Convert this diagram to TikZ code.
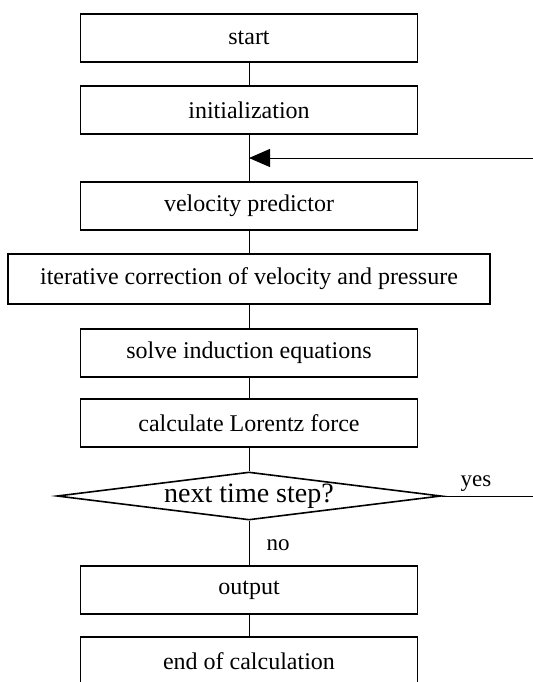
\documentclass[tikz,border=0pt]{standalone}
\usepackage{fontspec}
\setmainfont{Liberation Serif}
\usepackage{tikz}
\usetikzlibrary{arrows.meta,shapes.geometric}

\begin{document}
\begin{tikzpicture}[x=0.5pt,y=-0.5pt,
	box/.style={draw,line width=0.8pt,minimum width=168.5pt,minimum height=24pt,inner sep=0pt,font=\fontsize{12}{14}\selectfont},
	widebox/.style={box,minimum width=241pt,minimum height=25pt},
	ask/.style={draw,line width=0.8pt,diamond,shape aspect=8,minimum width=192pt,minimum height=24pt,inner sep=0pt,font=\fontsize{14}{16}\selectfont},
	link/.style={line width=0.5pt},
	lbl/.style={font=\fontsize{11.5}{13}\selectfont}]
					\useasboundingbox (0,0) rectangle (533,682);
					\clip (0,0) rectangle (533,682);

					\node[box] (start) at (249,38) {start};
					\node[box] (init) at (249,110) {initialization};
					\node[box] (predict) at (249,206) {velocity predictor};
					\node[widebox] (correct) at (249,279) {iterative correction of velocity and pressure};
					\node[box] (induct) at (249,353) {solve induction equations};
					\node[box] (lorentz) at (249,423) {calculate Lorentz force};
					\node[ask] (next) at (249,496) {next time step?};
					\node[box] (output) at (249,590) {output};
					\node[box] (finish) at (249,661) {end of calculation};

					\coordinate (join) at (249,158);
					\coordinate (loopin) at (533,158);
					\coordinate (loopout) at (533,496);

					\draw[link] (start) -- (init);
					\draw[link] (init) -- (predict);
					\draw[link] (predict) -- (correct);
					\draw[link] (correct) -- (induct);
					\draw[link] (induct) -- (lorentz);
					\draw[link] (lorentz) -- (next);
					\draw[link] (next) -- (output);
					\draw[link] (output) -- (finish);

					\draw[link,-{Triangle[length=10.5pt,width=9pt]}] (loopin) -- (join);
					\draw[link] (next.east) -- (loopout);

					\node[lbl] (yes) at (476,484) {yes};
					\node[lbl] (no) at (278,545) {no};
				\end{tikzpicture}
\end{document}
